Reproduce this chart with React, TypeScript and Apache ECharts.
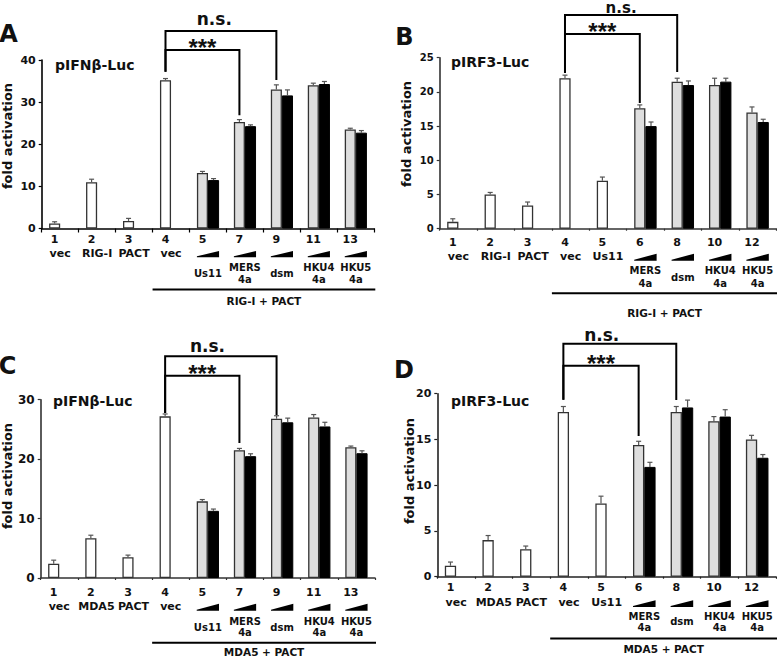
import React, { useEffect, useRef } from 'react';
import * as echarts from 'echarts';

// ---------- data ----------
const numsA = ['1', '2', '3', '4', '5', '7', '9', '11', '13'];
const numsB = ['1', '2', '3', '4', '5', '6', '8', '10', '12'];
const singlesA = ['vec', 'RIG-I', 'PACT', 'vec', '', '', '', '', ''];
const singlesB = ['vec', 'RIG-I', 'PACT', 'vec', 'Us11', '', '', '', ''];
const singlesC = ['vec', 'MDA5', 'PACT', 'vec', '', '', '', '', ''];
const singlesD = ['vec', 'MDA5', 'PACT', 'vec', 'Us11', '', '', '', ''];
const pairsAC = ['', '', '', '', 'Us11', 'MERS\n4a', 'dsm', 'HKU4\n4a', 'HKU5\n4a'];
const pairsBD = ['', '', '', '', '', 'MERS\n4a', 'dsm', 'HKU4\n4a', 'HKU5\n4a'];

const lowA = [1.2, 11.0, 1.8, 35.2, 13.2, 25.3, 33.0, 34.0, 23.5];
const lowErrA = [0.4, 0.7, 0.6, 0.4, 0.35, 0.55, 1.1, 0.5, 0.3];
const highA = [null, null, null, null, 11.5, 24.3, 31.6, 34.3, 22.75];
const highErrA = [0, 0, 0, 0, 0.35, 0.3, 1.3, 0.6, 0.5];

const lowB = [1.0, 5.0, 3.4, 22.0, 7.0, 17.6, 21.5, 21.0, 17.0];
const lowErrB = [0.45, 0.3, 0.5, 0.45, 0.55, 0.5, 0.5, 1.0, 0.8];
const highB = [null, null, null, null, null, 15.0, 21.0, 21.5, 15.6];
const highErrB = [0, 0, 0, 0, 0, 0.6, 0.6, 0.5, 0.4];

const lowC = [2.4, 6.7, 3.5, 27.2, 12.9, 21.5, 26.8, 27.0, 22.0];
const lowErrC = [0.6, 0.5, 0.35, 0.4, 0.3, 0.3, 0.5, 0.5, 0.2];
const highC = [null, null, null, null, 11.3, 20.5, 26.2, 25.5, 21.0];
const highErrC = [0, 0, 0, 0, 0.3, 0.4, 0.7, 0.7, 0.4];

const lowD = [1.2, 4.0, 3.0, 18.0, 8.0, 14.4, 18.0, 17.0, 15.0];
const lowErrD = [0.4, 0.5, 0.35, 0.6, 0.8, 0.4, 0.6, 0.5, 0.45];
const highD = [null, null, null, null, null, 12.0, 18.5, 17.5, 13.0];
const highErrD = [0, 0, 0, 0, 0, 0.5, 0.8, 0.75, 0.35];

// significance brackets (data units)
const bracketsA = [
  { from: 3, to: 6, top: 46.9, leftEnd: 37.2, rightEnd: 35.25, label: 'n.s.', t: 0.44, labelY: 49.7, size: 17 },
  { from: 3, to: 5, top: 42.4, leftEnd: 37.2, rightEnd: 26.9, label: '***', t: 0.5, labelY: 42.85, size: 24 },
];
const bracketsB = [
  { from: 3, to: 6, top: 31.24, leftEnd: 22.76, rightEnd: 22.9, label: 'n.s.', t: 0.5, labelY: 32.25, size: 15 },
  { from: 3, to: 5, top: 28.46, leftEnd: 22.76, rightEnd: 18.38, label: '***', t: 0.5, labelY: 28.76, size: 24 },
];
const bracketsC = [
  { from: 3, to: 6, top: 37.3, leftEnd: 27.76, rightEnd: 27.43, label: 'n.s.', t: 0.38, labelY: 39.04, size: 17 },
  { from: 3, to: 5, top: 34.04, leftEnd: 27.76, rightEnd: 22.72, label: '***', t: 0.5, labelY: 34.33, size: 24 },
];
const bracketsD = [
  { from: 3, to: 6, top: 25.46, leftEnd: 19.34, rightEnd: 19.31, label: 'n.s.', t: 0.34, labelY: 26.4, size: 17 },
  { from: 3, to: 5, top: 23.06, leftEnd: 19.34, rightEnd: 15.38, label: '***', t: 0.5, labelY: 23.25, size: 24 },
];

// ---------- layout ----------
const FONT = 'DejaVu Sans';
const BAR_FRAC = 0.3;

const panels = [
  {
    letter: 'A', title: 'pIFNβ-Luc', group: 'RIG-I + PACT',
    nums: numsA, singles: singlesA, pairs: pairsAC,
    low: lowA, lowErr: lowErrA, high: highA, highErr: highErrA, brackets: bracketsA,
    yMax: 40, yStep: 10, tickFont: 11, axisColor: '#000', xTickLen: 4,
    grid: { left: 41.7, top: 60, width: 332.6, height: 168.5 },
    letterPos: [8.5, 34], titlePos: [55, 65], yNamePos: [7.5, 136],
    L: { num: 10.5, row2: 25, rampB: 28.8, rampH: 6.3, row3: 45, lh: 12, line: 61, group: 72 },
  },
  {
    letter: 'B', title: 'pIRF3-Luc', group: 'RIG-I + PACT',
    nums: numsB, singles: singlesB, pairs: pairsBD,
    low: lowB, lowErr: lowErrB, high: highB, highErr: highErrB, brackets: bracketsB,
    yMax: 25, yStep: 5, tickFont: 10, axisColor: '#333', xTickLen: 2,
    grid: { left: 439.7, top: 57.7, width: 336.6, height: 171 },
    letterPos: [404.5, 37], titlePos: [451, 61.5], yNamePos: [406, 134],
    L: { num: 13.3, row2: 28, rampB: 32, rampH: 7, row3: 48.5, lh: 13, line: 64.6, group: 84.3 },
  },
  {
    letter: 'C', title: 'pIFNβ-Luc', group: 'MDA5 + PACT',
    nums: numsA, singles: singlesC, pairs: pairsAC,
    low: lowC, lowErr: lowErrC, high: highC, highErr: highErrC, brackets: bracketsC,
    yMax: 30, yStep: 10, tickFont: 12, axisColor: '#333', xTickLen: 2,
    grid: { left: 40.7, top: 399.7, width: 334.3, height: 178.3 },
    letterPos: [7.5, 365.5], titlePos: [53, 401], yNamePos: [7.5, 476],
    L: { num: 14.3, row2: 28.7, rampB: 32.7, rampH: 7, row3: 49, lh: 10.5, line: 64.7, group: 74 },
  },
  {
    letter: 'D', title: 'pIRF3-Luc', group: 'MDA5 + PACT',
    nums: numsB, singles: singlesD, pairs: pairsBD,
    low: lowD, lowErr: lowErrD, high: highD, highErr: highErrD, brackets: bracketsD,
    yMax: 20, yStep: 5, tickFont: 11, axisColor: '#222', xTickLen: 2,
    grid: { left: 437.3, top: 393.7, width: 338.7, height: 183 },
    letterPos: [404, 369.5], titlePos: [451, 400.5], yNamePos: [409, 471],
    L: { num: 11.2, row2: 25.8, rampB: 30.2, rampH: 6.7, row3: 45, lh: 10.6, line: 61.8, group: 71.8 },
  },
];

function txt(text: string, x: number, y: number, size: number, opts: any = {}) {
  return {
    type: 'text',
    x, y,
    silent: true,
    rotation: opts.rotation || 0,
    style: {
      text,
      x: 0, y: 0,
      fill: '#111',
      fontSize: size,
      fontWeight: 'bold',
      fontFamily: opts.family || FONT,
      align: opts.align || 'center',
      verticalAlign: 'middle',
      textAlign: opts.align || 'center',
      textVerticalAlign: 'middle',
      lineHeight: opts.lh,
      textLineHeight: opts.lh,
    },
  };
}

function buildOption() {
  const grid: any[] = [];
  const xAxis: any[] = [];
  const yAxis: any[] = [];
  const series: any[] = [];
  const graphic: any[] = [];

  panels.forEach((p, k) => {
    grid.push({ ...p.grid, containLabel: false });
    xAxis.push({
      type: 'category', gridIndex: k, data: p.nums,
      axisLine: { lineStyle: { color: p.axisColor, width: 1.6 } },
      axisTick: { show: true, length: p.xTickLen, lineStyle: { color: p.axisColor, width: 1.2 } },
      axisLabel: { show: false },
      splitLine: { show: false },
    });
    yAxis.push({
      type: 'value', gridIndex: k, min: 0, max: p.yMax, interval: p.yStep,
      axisLine: { show: true, lineStyle: { color: p.axisColor, width: 1.6 } },
      axisTick: { show: true, length: 3, lineStyle: { color: p.axisColor, width: 1.2 } },
      axisLabel: { fontSize: p.tickFont, fontWeight: 'bold', fontFamily: FONT, color: '#111', margin: 6 },
      splitLine: { show: false },
    });

    series.push({
      type: 'bar', xAxisIndex: k, yAxisIndex: k, barWidth: BAR_FRAC * 100 + '%', barGap: '0%',
      silent: true, z: 2,
      data: p.low.map((v, i) => ({
        value: v,
        itemStyle: { color: p.high[i] == null ? '#ffffff' : '#dedede', borderColor: '#333', borderWidth: 1.3 },
      })),
    });
    series.push({
      type: 'bar', xAxisIndex: k, yAxisIndex: k, barWidth: BAR_FRAC * 100 + '%', barGap: '0%',
      silent: true, z: 2,
      data: p.high.map((v) => (v == null ? '-' : v)),
      itemStyle: { color: '#000', borderColor: '#000', borderWidth: 1 },
    });

    const errData: number[][] = [];
    p.low.forEach((v, i) => errData.push([i, v, p.lowErr[i], 0]));
    p.high.forEach((v, i) => { if (v != null) errData.push([i, v, p.highErr[i], 1]); });
    series.push({
      type: 'custom', xAxisIndex: k, yAxisIndex: k, silent: true, z: 3, clip: false,
      encode: { x: 0, y: 1 },
      data: errData,
      renderItem: (params: any, api: any) => {
        const i = api.value(0), v = api.value(1), e = api.value(2), s = api.value(3);
        const b = api.coord([i, v]);
        const t = api.coord([i, v + e]);
        const band = api.size([1, 0])[0];
        const bw = band * BAR_FRAC;
        const cx = b[0] + (s === 0 ? -bw / 2 : bw / 2);
        return {
          type: 'group',
          children: [
            { type: 'line', shape: { x1: cx, y1: b[1], x2: cx, y2: t[1] }, style: { stroke: '#555', lineWidth: 1.2 } },
            { type: 'line', shape: { x1: cx - 2.5, y1: t[1], x2: cx + 2.5, y2: t[1] }, style: { stroke: '#555', lineWidth: 1.2 } },
          ],
        };
      },
    });

    const L = p.L;
    series.push({
      type: 'custom', xAxisIndex: k, yAxisIndex: k, silent: true, z: 4, clip: false,
      encode: { x: 0, y: 1 },
      data: p.nums.map((_, i) => [i, 0]),
      renderItem: (params: any, api: any) => {
        const i = api.value(0);
        const c = api.coord([i, 0]);
        const band = api.size([1, 0])[0];
        const bw = band * BAR_FRAC;
        const y0 = c[1];
        const children: any[] = [];
        children.push(txt(p.nums[i], c[0] - bw / 2, y0 + L.num, 11));
        if (p.singles[i]) children.push(txt(p.singles[i], c[0], y0 + L.row2, 11));
        if (p.pairs[i]) {
          const l = c[0] - bw, r = c[0] + bw, bb = y0 + L.rampB, tt = bb - L.rampH;
          children.push({ type: 'polygon', shape: { points: [[l, bb], [r, bb], [r, tt], [l, bb - 1]] }, style: { fill: '#000' } });
          children.push(txt(p.pairs[i], c[0], y0 + L.row3, 10, { lh: L.lh }));
        }
        if (i === 3) {
          const start = c[0] - band / 2;
          const end = api.coord([p.nums.length - 1, 0])[0] + band / 2 + 1;
          children.push({ type: 'line', shape: { x1: start, y1: y0 + L.line, x2: end, y2: y0 + L.line }, style: { stroke: '#000', lineWidth: 2 } });
          children.push(txt(p.group, (start + end) / 2, y0 + L.group, 10.5));
        }
        return { type: 'group', children };
      },
    });

    series.push({
      type: 'custom', xAxisIndex: k, yAxisIndex: k, silent: true, z: 5, clip: false,
      encode: { x: 0, y: 1 },
      data: p.brackets.map((b) => [b.from, b.top]),
      renderItem: (params: any, api: any) => {
        const b = p.brackets[params.dataIndex];
        const band = api.size([1, 0])[0];
        const bw = band * BAR_FRAC;
        const xl = api.coord([b.from, 0])[0] - bw / 2;
        const xr = api.coord([b.to, 0])[0] - bw / 2;
        const yTop = api.coord([b.from, b.top])[1];
        const yL = api.coord([b.from, b.leftEnd])[1];
        const yR = api.coord([b.to, b.rightEnd])[1];
        const ly = api.coord([b.from, b.labelY])[1];
        const lx = xl + (xr - xl) * b.t;
        const isStar = b.label === '***';
        return {
          type: 'group',
          children: [
            { type: 'polyline', shape: { points: [[xl, yL], [xl, yTop], [xr, yTop], [xr, yR]] }, style: { stroke: '#000', lineWidth: 2, fill: null } },
            txt(b.label, lx, ly, b.size, { family: isStar ? 'Liberation Sans' : FONT }),
          ],
        };
      },
    });

    graphic.push(txt(p.letter, p.letterPos[0], p.letterPos[1], 24));
    graphic.push(txt(p.title, p.titlePos[0], p.titlePos[1], 14, { align: 'left' }));
    graphic.push(txt('fold activation', p.yNamePos[0], p.yNamePos[1], 13, { rotation: Math.PI / 2 }));
  });

  return {
    animation: false,
    backgroundColor: '#ffffff',
    grid, xAxis, yAxis, series, graphic,
  };
}

export default function App() {
  const ref = useRef<HTMLDivElement>(null);
  useEffect(() => {
    const chart = echarts.init(ref.current!, undefined, { renderer: 'svg' });
    chart.setOption(buildOption() as any);
    return () => chart.dispose();
  }, []);
  return (
    <div
      ref={ref}
      style={{ position: 'fixed', left: 0, top: 0, width: 777, height: 658, background: '#fff' }}
    />
  );
}
